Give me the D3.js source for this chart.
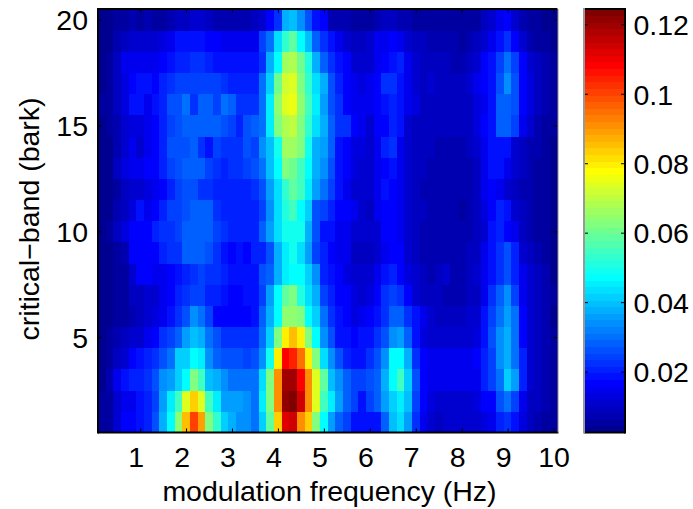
<!DOCTYPE html>
<html>
<head>
<meta charset="utf-8">
<style>
  html, body { margin: 0; padding: 0; background: #fff; }
  text { font-family: "Liberation Sans", Arial, sans-serif; fill: #000; }
</style>
<script src="https://cdnjs.cloudflare.com/ajax/libs/d3/7.8.5/d3.min.js"></script>
</head>
<body>
<svg id="drawing_region"></svg>
<script>
// modulation frequency bins (Hz), 1/6 Hz apart
const modFreqs = [
  0.17,0.33,0.50,0.67,0.83,1.00,1.17,1.33,1.50,1.67,
  1.83,2.00,2.17,2.33,2.50,2.67,2.83,3.00,3.17,3.33,
  3.50,3.67,3.83,4.00,4.17,4.33,4.50,4.67,4.83,5.00,
  5.17,5.33,5.50,5.67,5.83,6.00,6.17,6.33,6.50,6.67,
  6.83,7.00,7.17,7.33,7.50,7.67,7.83,8.00,8.17,8.33,
  8.50,8.67,8.83,9.00,9.17,9.33,9.50,9.67,9.83,10.00
];
const barkBands = [1,2,3,4,5,6,7,8,9,10,11,12,13,14,15,16,17,18,19,20];

// values x 1000, one row per bark band (band 1 first)
const energy = [
  [6,6,11,16,17,18,21,27,38,48,65,85,100,90,63,53,41,38,33,33,30,42,58,83,112,113,92,83,63,48,36,28,24,19,19,19,19,28,40,43,35,22,14,12,10,11,11,11,11,11,13,15,20,22,19,13,9,8,6,5],
  [5,5,11,14,15,18,20,25,35,45,55,73,83,73,55,46,36,36,36,33,30,46,63,92,122,124,113,92,73,55,45,35,28,24,18,24,28,35,42,45,39,25,16,13,12,12,12,12,12,13,16,17,26,30,24,14,10,9,7,5],
  [4,8,15,18,21,21,22,27,33,35,41,48,62,54,40,37,33,31,30,31,30,43,63,92,119,119,108,92,74,58,39,33,28,25,25,26,29,37,48,54,41,27,17,14,14,14,14,14,14,15,20,25,30,41,35,21,12,9,7,6],
  [3,6,9,12,16,18,20,22,27,31,42,41,48,45,34,28,26,26,26,25,26,33,50,80,109,105,94,79,63,44,33,26,20,19,19,23,26,33,48,48,37,23,17,15,15,15,15,15,15,17,21,25,33,38,31,20,12,10,8,6],
  [4,5,7,9,11,12,14,16,23,25,28,35,40,37,31,26,23,23,23,23,23,31,41,62,79,85,79,63,47,33,26,18,18,16,18,18,22,26,34,36,28,18,13,12,12,12,12,12,12,13,18,26,33,37,30,17,12,9,8,6],
  [3,4,5,6,8,9,11,13,15,18,22,27,33,31,25,17,17,17,17,17,18,28,37,48,65,65,62,48,41,31,23,18,16,13,14,16,18,23,29,29,23,18,14,12,10,10,10,10,11,12,18,25,31,36,30,17,12,10,7,4],
  [3,4,5,6,9,10,11,12,14,17,20,23,25,24,21,20,18,17,17,18,19,24,36,48,58,62,51,44,37,25,20,17,16,13,12,13,17,23,24,23,16,12,10,9,9,8,8,8,9,10,15,22,29,33,25,15,12,10,8,5],
  [3,4,5,6,12,17,17,15,15,16,19,21,22,25,23,22,21,18,18,18,18,26,28,37,46,47,47,42,33,20,18,16,13,12,11,11,15,18,20,17,13,11,9,8,9,11,7,8,9,12,15,19,23,26,21,14,11,9,7,4],
  [3,4,5,7,16,16,16,17,20,22,23,29,29,29,27,23,18,16,18,16,20,21,27,38,45,50,44,36,25,20,17,15,14,10,10,10,12,15,16,16,12,10,8,8,7,7,7,8,9,10,14,18,22,26,20,12,9,7,6,4],
  [4,5,9,13,17,17,17,20,22,22,25,29,29,29,29,25,22,20,20,20,20,28,35,44,49,49,50,38,26,19,18,15,14,11,11,11,12,16,17,15,12,9,8,8,8,8,7,7,8,10,12,18,20,17,14,9,7,6,5,4],
  [3,4,7,10,13,18,14,17,20,25,25,26,28,28,28,22,20,20,20,20,21,24,34,43,52,54,48,41,27,24,20,17,17,14,11,10,14,16,16,15,12,10,9,8,8,8,8,6,8,9,13,16,21,18,12,9,7,6,5,4],
  [3,4,6,9,12,12,13,14,17,20,24,27,26,22,22,21,21,21,21,21,22,27,36,44,53,58,54,46,36,31,24,18,15,12,11,11,15,19,17,14,11,9,8,8,8,8,8,8,8,9,15,17,15,12,9,8,7,6,5,4],
  [3,4,9,13,15,14,16,17,20,24,26,29,29,29,25,22,20,22,22,25,27,31,40,48,62,60,54,47,37,33,26,18,16,13,12,12,15,17,18,15,12,10,9,8,8,8,8,8,8,10,15,18,18,15,12,9,8,6,5,4],
  [3,4,8,12,14,12,15,16,21,26,26,27,29,22,18,25,22,22,22,27,24,33,40,50,66,67,62,49,37,36,28,19,17,13,13,12,14,20,22,15,12,10,9,9,8,8,8,8,9,12,15,19,19,18,12,9,8,7,5,4],
  [4,5,8,11,13,13,15,17,20,24,27,29,29,29,29,29,26,24,21,27,28,30,45,63,69,70,62,53,44,38,29,23,22,16,14,12,16,17,21,18,12,10,9,9,9,9,9,9,10,13,16,18,28,29,25,15,11,8,6,5],
  [5,6,9,13,18,18,14,18,21,26,26,31,23,29,29,25,30,29,22,22,22,30,45,64,74,75,65,55,45,36,26,22,17,15,14,14,17,18,20,18,15,13,10,10,9,9,9,9,10,13,15,18,28,28,27,16,13,10,7,5],
  [4,6,10,13,16,18,19,17,21,22,24,24,24,25,24,24,22,21,21,21,21,31,42,60,72,73,62,53,43,37,26,21,16,15,13,14,16,22,22,18,15,12,10,11,10,10,10,10,11,14,16,18,27,33,27,16,13,9,7,6],
  [4,5,9,14,14,14,14,15,17,19,20,21,22,23,20,19,18,18,18,18,18,22,37,48,66,68,61,51,38,28,22,18,17,12,11,11,14,16,18,21,14,12,10,9,10,9,8,8,10,12,16,18,25,31,24,16,12,9,7,6],
  [3,4,7,10,12,12,12,12,13,15,18,18,19,19,17,17,14,14,14,14,14,24,31,44,53,59,48,40,28,23,18,15,12,10,10,11,14,15,16,14,11,10,9,8,8,7,7,6,8,9,12,14,18,22,17,11,8,6,5,4],
  [3,4,5,6,7,6,7,6,6,7,9,10,11,11,9,8,7,7,7,7,9,12,16,23,37,40,34,27,18,16,8,8,7,6,6,6,8,9,9,8,7,6,6,5,6,6,5,5,6,6,9,12,14,16,12,7,6,5,4,3]
];

const xTicks = [1,2,3,4,5,6,7,8,9,10];
const yTicks = [5,10,15,20];
const colorTicks = [0.02,0.04,0.06,0.08,0.1,0.12];
const xLabel = "modulation frequency (Hz)";
const yLabel = "critical\u2212band (bark)";

// jet colormap, 64 levels like MATLAB
const jetStops = d3.scaleLinear()
  .domain([0, 1/8, 3/8, 5/8, 7/8, 1])
  .range(["#000080", "#0000ff", "#00ffff", "#ffff00", "#ff0000", "#800000"]);
const jetLevels = d3.range(64).map(i => jetStops((i + 1) / 64));

const config = { width: 693, height: 509 };
const plot = { left: 98, right: 557.4, top: 9, bottom: 432.4 };
const bar = { left: 584, right: 625 };
const fontSize = "28.5px";

const svg = d3.select("#drawing_region")
  .attr("width", config.width)
  .attr("height", config.height)
  .style("display", "block");

const xband = d3.scaleBand().domain(modFreqs).range([plot.left, plot.right]);
const yband = d3.scaleBand().domain(barkBands).range([plot.bottom, plot.top]);
const xscale = d3.scaleLinear().domain([1/12, 10 + 1/12]).range([plot.left, plot.right]);
const yscale = d3.scaleLinear().domain([0.5, 20.5]).range([plot.bottom, plot.top]);
const color = d3.scaleQuantize().domain([0.0025, 0.1244]).range(jetLevels);
const cscale = d3.scaleLinear().domain([0.0025, 0.1244]).range([plot.bottom, plot.top]);

// heat map cells
svg.append("g")
  .selectAll("g")
  .data(energy)
  .join("g")
  .attr("transform", (d, i) => `translate(0, ${yband(barkBands[i])})`)
  .selectAll("rect")
  .data(d => d)
  .join("rect")
  .attr("x", (d, i) => xband(modFreqs[i]))
  .attr("width", xband.bandwidth() + 0.5)
  .attr("height", yband.bandwidth() + 0.5)
  .attr("shape-rendering", "crispEdges")
  .attr("fill", d => color(d / 1000));

// colorbar
const levelBand = d3.scaleBand().domain(d3.range(64)).range([plot.bottom, plot.top]);
svg.append("g")
  .selectAll("rect")
  .data(jetLevels)
  .join("rect")
  .attr("x", bar.left)
  .attr("width", bar.right - bar.left)
  .attr("y", (d, i) => levelBand(i))
  .attr("height", levelBand.bandwidth() + 0.5)
  .attr("shape-rendering", "crispEdges")
  .attr("fill", d => d);

function styleAxis(g) {
  g.selectAll(".tick line").attr("stroke", "#000").attr("stroke-width", 1);
  g.selectAll(".domain").attr("stroke", "none");
  g.selectAll("text").attr("font-size", fontSize).attr("fill", "#000")
    .attr("font-family", '"Liberation Sans", Arial, sans-serif');
}

const noLabel = () => "";

svg.append("g")
  .attr("transform", `translate(0, ${plot.bottom})`)
  .call(d3.axisBottom(xscale).tickValues(xTicks).tickSize(-4).tickPadding(14.7).tickFormat(d3.format("d")))
  .call(styleAxis)
  // single digit labels sit a little left of their tick in the original
  .call(g => g.selectAll("text").attr("dx", d => d < 10 ? -4.5 : 0));
svg.append("g")
  .attr("transform", `translate(0, ${plot.top})`)
  .call(d3.axisTop(xscale).tickValues(xTicks).tickSize(-4).tickFormat(noLabel))
  .call(styleAxis);
svg.append("g")
  .attr("transform", `translate(${plot.left}, 0)`)
  .call(d3.axisLeft(yscale).tickValues(yTicks).tickSize(-4).tickPadding(10).tickFormat(d3.format("d")))
  .call(styleAxis)
  .call(g => g.selectAll("text").attr("dy", "0.35em"));
svg.append("g")
  .attr("transform", `translate(${plot.right}, 0)`)
  .call(d3.axisRight(yscale).tickValues(yTicks).tickSize(-4).tickFormat(noLabel))
  .call(styleAxis);

// colorbar ticks on both sides, labels on the right
svg.append("g")
  .attr("transform", `translate(${bar.right}, 0)`)
  .call(d3.axisRight(cscale).tickValues(colorTicks).tickSize(-4).tickPadding(8.5).tickFormat(d => String(d)))
  .call(styleAxis)
  .call(g => g.selectAll("text").attr("dy", "0.36em"));
svg.append("g")
  .attr("transform", `translate(${bar.left}, 0)`)
  .call(d3.axisLeft(cscale).tickValues(colorTicks).tickSize(-4).tickFormat(noLabel))
  .call(styleAxis);

// box edges: black with a grey side, as in the original
const frame = svg.append("g").attr("fill", "none");
function edge(x1, y1, x2, y2, stroke, w) {
  frame.append("line")
    .attr("x1", x1).attr("y1", y1).attr("x2", x2).attr("y2", y2)
    .attr("stroke", stroke).attr("stroke-width", w);
}
edge(plot.left, plot.top, plot.right, plot.top, "#000", 2);
edge(plot.left, plot.bottom, plot.right + 1, plot.bottom, "#000", 2);
edge(plot.left, plot.top - 1, plot.left, plot.bottom + 1, "#000", 2);
edge(plot.right + 0.5, plot.top, plot.right + 0.5, plot.bottom, "#777", 1);
edge(bar.left, plot.top, bar.right, plot.top, "#000", 2);
edge(bar.left, plot.bottom, bar.right, plot.bottom, "#000", 2);
edge(bar.left, plot.top - 1, bar.left, plot.bottom + 1, "#999", 2);
edge(bar.right, plot.top - 1, bar.right, plot.bottom + 1, "#000", 2);

// axis titles
svg.append("text")
  .attr("text-anchor", "middle")
  .attr("x", 329.5)
  .attr("y", 501)
  .attr("font-size", fontSize)
  .text(xLabel);
svg.append("text")
  .attr("text-anchor", "middle")
  .attr("transform", `translate(39, 219) rotate(-90)`)
  .attr("font-size", fontSize)
  .text(yLabel);
</script>
</body>
</html>
